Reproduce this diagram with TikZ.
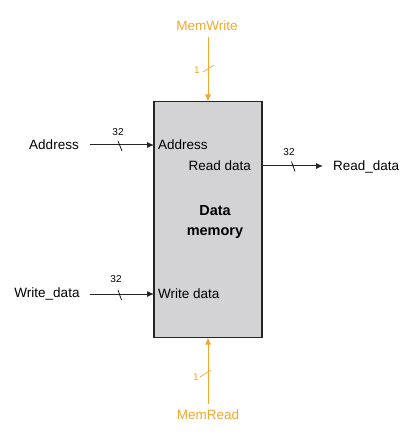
\documentclass[tikz,border=0pt]{standalone}
\usepackage{fontspec}
\setmainfont{Liberation Sans}
\usetikzlibrary{arrows.meta}
\definecolor{ctrlorange}{RGB}{243,167,45}
\definecolor{memgray}{RGB}{211,211,213}

\begin{document}
\begin{tikzpicture}[x=1pt,y=-1pt]
        \tikzset{
        memblk/.style={draw=black!85, fill=memgray, line width=1.2pt, minimum width=108pt, minimum height=236pt, inner sep=0pt},
        sig/.style={font=\fontsize{13.5}{16}\selectfont, inner sep=0pt},
        busw/.style={font=\fontsize{10}{12}\selectfont, inner sep=0pt},
        wire/.style={line width=1pt, black!85, -{Latex[length=7pt,width=6pt]}},
        ctrl/.style={line width=1pt, ctrlorange, -{Latex[length=7pt,width=6pt]}},
        tick/.style={line width=0.7pt}
        }
        \useasboundingbox (0,0) rectangle (418,435);

        \node[memblk] (mem) at (208,219.5) {};
        \node[font=\fontsize{14.5}{20}\selectfont\bfseries, align=center] (title) at (215,222) {Data\\memory};

        % ports inside the block
        \node[sig, anchor=west] (pAddr) at (158,145) {Address};
        \node[sig, anchor=east] (pRead) at (251,166) {Read data};
        \node[sig, anchor=west] (pWrite) at (158,294) {Write data};

        % outside signals
        \node[sig] (addr) at (54,145) {Address};
        \node[sig] (wdata) at (47,294) {Write\_data};
        \node[sig, anchor=west] (rdata) at (333,167) {Read\_data};
        \node[sig, text=ctrlorange] (mwrite) at (207,26) {MemWrite};
        \node[sig, text=ctrlorange] (mread) at (208,415) {MemRead};

        \coordinate (aIn) at (154,145);
        \coordinate (wIn) at (154,294);
        \coordinate (rOut) at (262,166);
        \coordinate (mwIn) at (208,101.5);
        \coordinate (mrIn) at (208,337.5);

        \draw[wire, shorten <=11pt] (addr.east) -- (aIn);
        \draw[wire, shorten <=10pt] (wdata.east) -- (wIn);
        \draw[wire, shorten >=10pt] (rOut) -- (rdata.west |- rOut);
        \draw[ctrl, shorten <=6pt] (mwrite.south -| mwIn) -- (mwIn);
        \draw[ctrl, shorten <=6pt] (mread.north) -- (mrIn);

        % bus widths
        \draw[tick] (118,141) -- (122,151);
        \node[busw] (wAddr) at (118,132) {32};
        \draw[tick] (118,290) -- (121.5,300);
        \node[busw] (wWrite) at (116,279) {32};
        \draw[tick] (291.5,161.5) -- (295,171.5);
        \node[busw] (wRead) at (289,152) {32};
        \draw[tick, ctrlorange] (203,72) -- (214,65);
        \node[busw, text=ctrlorange] (wMw) at (197,70) {1};
        \draw[tick, ctrlorange] (200,377) -- (211,370);
        \node[busw, text=ctrlorange] (wMr) at (196,377) {1};
\end{tikzpicture}
\end{document}
